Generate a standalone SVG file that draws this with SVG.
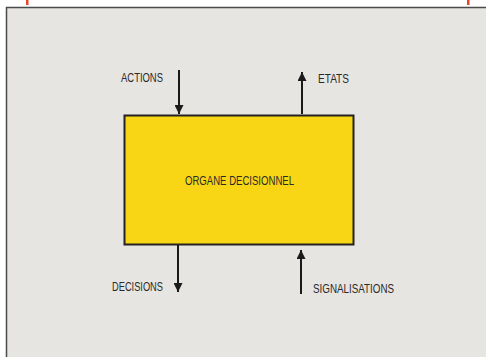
<svg xmlns="http://www.w3.org/2000/svg" width="486" height="357" viewBox="0 0 486 357">
<defs>
<marker id="ah" viewBox="0 0 10 10" refX="10" refY="5" markerWidth="10" markerHeight="9" markerUnits="userSpaceOnUse" orient="auto">
<path d="M0,0 L10,5 L0,10 z" fill="#1a1a1a"/>
</marker>
</defs>
<style>
.lbl{font-family:"Liberation Sans",Arial,sans-serif;font-size:12.5px;fill:#2a2a2a}
.arr{stroke:#1a1a1a;stroke-width:2;fill:none;marker-end:url(#ah)}
</style>
<rect x="0" y="0" width="486" height="357" fill="#ffffff"/>
<rect x="6.5" y="7.5" width="490" height="360" fill="#e7e5e1" stroke="#4a4a4a" stroke-width="1.5"/>
<rect x="26" y="0" width="2.5" height="5" fill="#e8442a"/>
<rect x="467" y="0" width="2.5" height="5" fill="#e8442a"/>
<g id="organe">
<rect x="124.5" y="115.5" width="229" height="129" fill="#f8d615" stroke="#222" stroke-width="2"/>
<text class="lbl" x="185" y="185" textLength="109" lengthAdjust="spacingAndGlyphs">ORGANE DECISIONNEL</text>
</g>
<g id="actions"><text class="lbl" x="121" y="82" textLength="42" lengthAdjust="spacingAndGlyphs">ACTIONS</text></g>
<g id="etats"><text class="lbl" x="318" y="83" textLength="31" lengthAdjust="spacingAndGlyphs">ETATS</text></g>
<g id="decisions"><text class="lbl" x="112" y="291" textLength="51" lengthAdjust="spacingAndGlyphs">DECISIONS</text></g>
<g id="signalisations"><text class="lbl" x="313" y="293" textLength="81" lengthAdjust="spacingAndGlyphs">SIGNALISATIONS</text></g>
<g id="connectors">
<line class="arr" x1="179" y1="70" x2="179" y2="114"/>
<line class="arr" x1="302" y1="114" x2="302" y2="72"/>
<line class="arr" x1="178" y1="245" x2="178" y2="292"/>
<line class="arr" x1="301" y1="294" x2="301" y2="250"/>
</g>
</svg>
